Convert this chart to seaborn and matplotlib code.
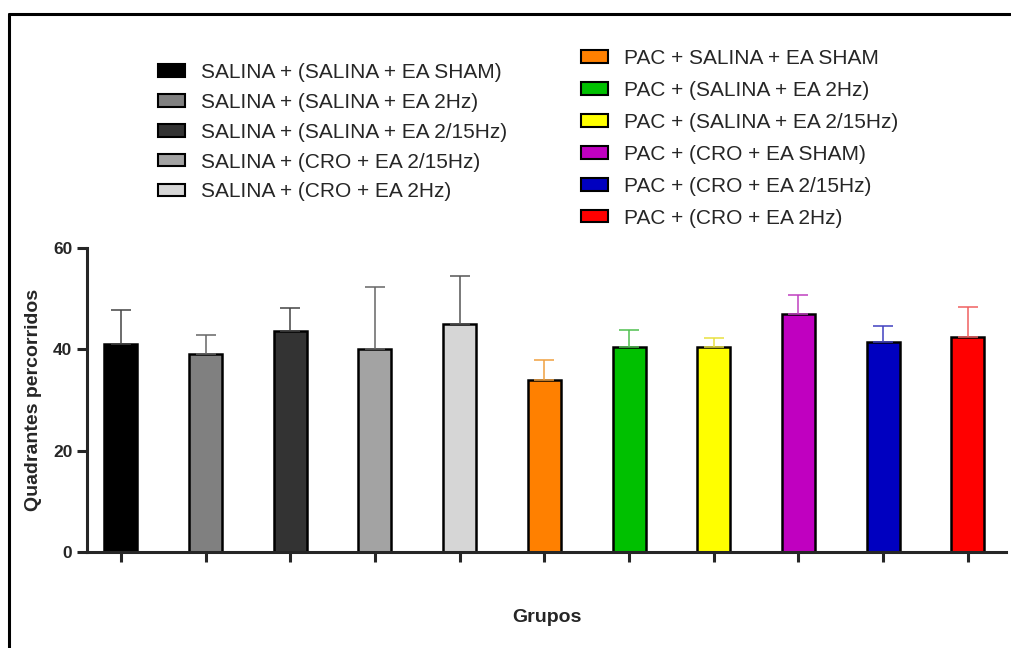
import pandas as pd
import matplotlib.pyplot as plt
import seaborn as sns
from matplotlib.patches import Patch
from matplotlib.lines import Line2D

sns.set_theme(style="ticks")
plt.rcParams['font.family'] = ['Liberation Sans', 'DejaVu Sans']

grupos = ['SALINA + (SALINA + EA SHAM)', 'SALINA + (SALINA + EA 2Hz)',
          'SALINA + (SALINA + EA 2/15Hz)', 'SALINA + (CRO + EA 2/15Hz)',
          'SALINA + (CRO + EA 2Hz)', 'PAC + SALINA + EA SHAM',
          'PAC + (SALINA + EA 2Hz)', 'PAC + (SALINA + EA 2/15Hz)',
          'PAC + (CRO + EA SHAM)', 'PAC + (CRO + EA 2/15Hz)',
          'PAC + (CRO + EA 2Hz)']
medias = [41.0, 39.0, 43.6, 40.0, 45.0, 33.9, 40.5, 40.5, 46.9, 41.5, 42.5]
desvios = [6.7, 3.8, 4.5, 12.3, 9.4, 4.0, 3.3, 1.8, 3.9, 3.1, 5.9]
cores = ['#000000', '#808080', '#333333', '#a3a3a3', '#d6d6d6', '#ff8000',
         '#00c000', '#ffff00', '#c000c0', '#0000c0', '#ff0000']
cores_erro = ['#444444', '#666666', '#444444', '#666666', '#555555', '#f0a040',
              '#50c050', '#e8e040', '#c040c0', '#4040c0', '#f06060']

df = pd.DataFrame({'grupo': grupos, 'media': medias})

fig = plt.figure(figsize=(10.11, 6.48), dpi=100)
ax = fig.add_axes([87/1011, 1-552/648, (1006-87)/1011, (552-248)/648])

sns.barplot(data=df, x='grupo', y='media', hue='grupo', palette=cores,
            width=0.39, edgecolor='black', linewidth=1.8, errorbar=None,
            legend=False, ax=ax, saturation=1)

for p, m, sd, c in zip(ax.patches, medias, desvios, cores_erro):
    xc = p.get_x() + p.get_width()/2
    ax.errorbar(xc, m, yerr=[[0], [sd]], color=c, capsize=7, elinewidth=1.1,
                capthick=1.1, zorder=1)

ax.set_xlim(-0.40, 10.45)
ax.set_ylim(0, 60)
ax.set_yticks([0, 20, 40, 60])
ax.set_xticks(range(len(grupos)))
ax.set_xticklabels([])
sns.despine(ax=ax)
for s in ['left', 'bottom']:
    ax.spines[s].set_linewidth(2.2)
ax.tick_params(axis='both', direction='out', length=7, width=2.2, labelsize=12.5)
for t in ax.get_yticklabels():
    t.set_fontweight('bold')
ax.set_ylabel('Quadrantes percorridos', fontsize=14, fontweight='bold', labelpad=8)
ax.set_xlabel('')
fig.text(547/1011, 1-617/648, 'Grupos', ha='center', va='center',
         fontsize=14, fontweight='bold')

handles = [Patch(facecolor=c, edgecolor='black', linewidth=1.5) for c in cores]
leg1 = fig.legend(handles[:5], grupos[:5], loc='upper left',
                  bbox_to_anchor=(158/1011, 1-63/648), frameon=False,
                  borderpad=0, borderaxespad=0, handlelength=1.3,
                  handleheight=0.55, handletextpad=0.75, labelspacing=0.52,
                  fontsize=15)
leg2 = fig.legend(handles[5:], grupos[5:], loc='upper left',
                  bbox_to_anchor=(581/1011, 1-49/648), frameon=False,
                  borderpad=0, borderaxespad=0, handlelength=1.3,
                  handleheight=0.55, handletextpad=0.75, labelspacing=0.62,
                  fontsize=15)

# moldura da figura (esquerda e topo)
fig.add_artist(Line2D([9/1011, 9/1011], [0, 1-14/648], color='black', lw=2.2,
                      transform=fig.transFigure))
fig.add_artist(Line2D([9/1011, 1010/1011], [1-14/648, 1-14/648], color='black',
                      lw=2.2, transform=fig.transFigure))

fig.savefig('out.png', dpi=100)
